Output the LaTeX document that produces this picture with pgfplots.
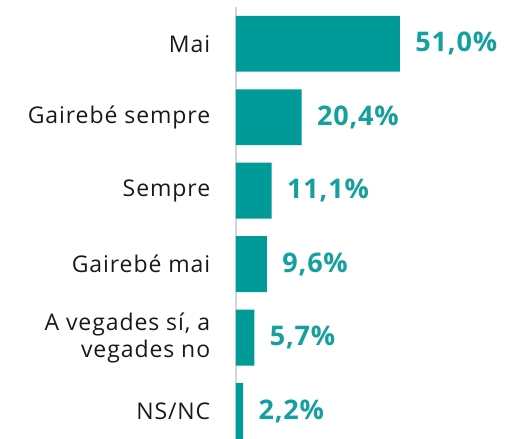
\documentclass[border=0pt]{standalone}
\usepackage{pgfplots}
\pgfplotsset{compat=1.18}
\usepackage{fontspec}
\setmainfont{Open Sans}
\definecolor{teal1}{HTML}{009A98}
\definecolor{tealtxt}{HTML}{14A09E}
\definecolor{axgray}{HTML}{D4D4D4}
\begin{document}
\begin{tikzpicture}
\begin{axis}[
  scale only axis,
  width=272pt, height=432pt,
  xbar, bar width=0.76,
  xmin=0, xmax=84.6,
  ymin=-0.38, ymax=5.5,
  axis x line=none,
  axis y line*=left,
  y axis line style={axgray, line width=1.5pt, -},
  ytick={0,1,2,3,4,5},
  yticklabels={NS/NC,{A vegades sí, a\\vegades no},Gairebé mai,Sempre,Gairebé sempre,Mai},
  ytick style={draw=none},
  yticklabel style={align=right, font=\fontsize{23}{27}\selectfont\addfontfeatures{LetterSpace=4}, text=black!90, xshift=-18pt},
  point meta=explicit symbolic,
  nodes near coords,
  nodes near coords style={anchor=west, xshift=12pt, font=\fontsize{27}{30}\selectfont\bfseries\addfontfeatures{LetterSpace=3}, text=tealtxt},
  clip=false,
]
\addplot[fill=teal1, draw=none] table[meta=lab] {
x y lab
2.2 0 2,2\%
5.7 1 5,7\%
9.6 2 9,6\%
11.1 3 11,1\%
20.4 4 20,4\%
51.0 5 51,0\%
};
\coordinate (sw) at (rel axis cs:0,0);
\coordinate (ne) at (rel axis cs:1,1);
\end{axis}
\pgfresetboundingbox
\path ([xshift=-236pt]sw) rectangle ([yshift=7pt]ne);
\end{tikzpicture}
\end{document}
